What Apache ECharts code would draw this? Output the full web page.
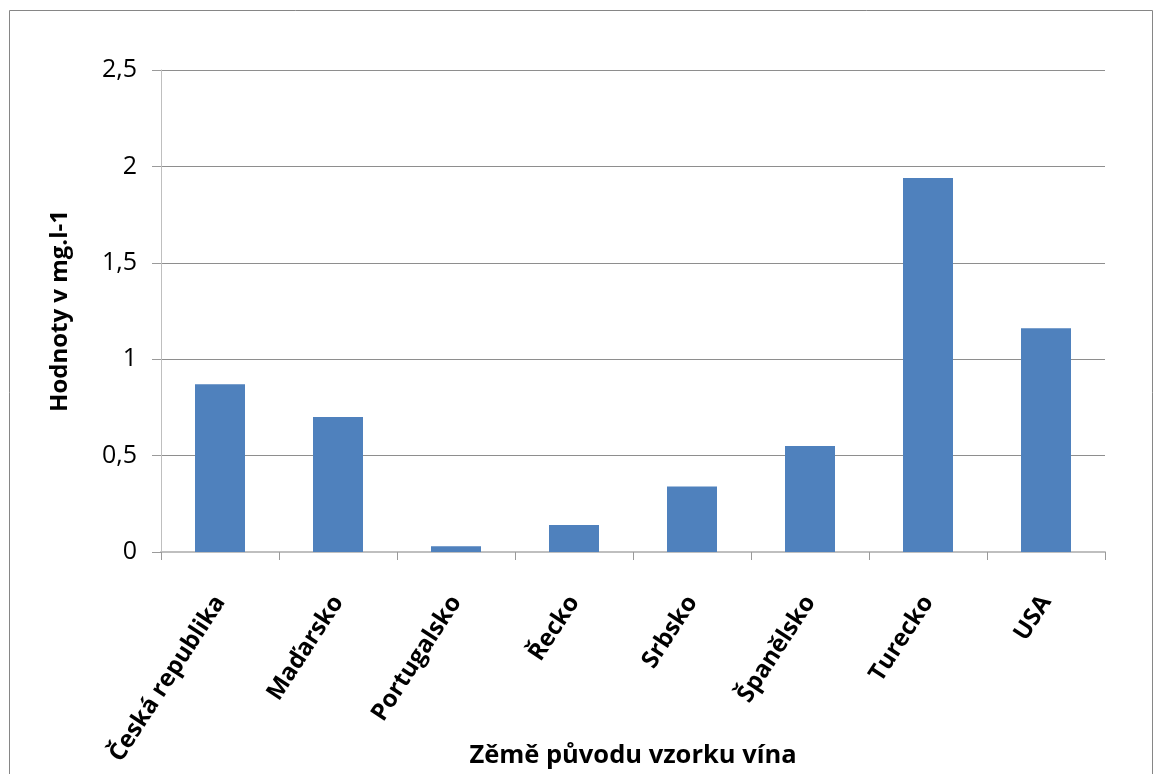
<!DOCTYPE html>
<html>
<head>
<meta charset="utf-8">
<script src="https://cdn.jsdelivr.net/npm/echarts@6/dist/echarts.min.js"></script>
<style>
  html, body { margin: 0; padding: 0; background: #fff; }
  #chart { width: 1155px; height: 774px; }
</style>
</head>
<body>
<div id="chart"></div>
<script>
// Země původu vzorků vína a naměřené hodnoty (mg.l-1)
const countries = ['Česká republika', 'Maďarsko', 'Portugalsko', 'Řecko', 'Srbsko', 'Španělsko', 'Turecko', 'USA'];
const values = [0.87, 0.70, 0.03, 0.14, 0.34, 0.55, 1.94, 1.16];
const yTicks = [0, 0.5, 1, 1.5, 2, 2.5];

const xTitle = 'Zěmě původu vzorku vína';
const yTitle = 'Hodnoty v mg.l-1';

const FONT = '"Open Sans", "DejaVu Sans", sans-serif';

const chart = echarts.init(document.getElementById('chart'), null, { renderer: 'canvas' });

chart.setOption({
  animation: false,
  backgroundColor: '#ffffff',
  grid: {
    left: 161, right: 50, top: 70, bottom: 222,
    containLabel: false,
    outerBoundsMode: 'none'
  },
  graphic: [
    {
      type: 'rect',
      shape: { x: 9.5, y: 10.5, width: 1143, height: 800 },
      style: { fill: 'none', stroke: '#868686', lineWidth: 1 },
      silent: true
    },
    {
      // vertical axis title
      type: 'text',
      x: 60,
      y: 311,
      rotation: Math.PI / 2,
      style: {
        text: yTitle,
        font: 'bold 24px ' + FONT,
        fill: '#000',
        align: 'center',
        verticalAlign: 'middle'
      }
    },
    {
      // horizontal axis title, centred under the plot
      type: 'text',
      x: 633,
      y: 756,
      style: {
        text: xTitle,
        font: 'bold 25.5px ' + FONT,
        fill: '#000',
        align: 'center',
        verticalAlign: 'middle'
      }
    }
  ],
  xAxis: {
    type: 'category',
    data: countries,
    boundaryGap: true,
    axisLine: { show: true, lineStyle: { color: '#BFBFBF', width: 2 } },
    axisTick: { show: true, length: 8, alignWithLabel: false, lineStyle: { color: '#9a9a9a', width: 1 } },
    axisLabel: {
      interval: 0,
      rotate: 57,
      margin: 46,
      fontFamily: FONT,
      fontSize: 24,
      fontWeight: 'bold',
      color: '#000'
    },
    splitLine: { show: false }
  },
  yAxis: {
    type: 'value',
    min: 0,
    max: 2.5,
    interval: 0.5,
    axisLine: { show: true, lineStyle: { color: '#BFBFBF', width: 1 } },
    axisTick: { show: true, length: 9, lineStyle: { color: '#9a9a9a' } },
    axisLabel: {
      margin: 24,
      fontFamily: FONT,
      fontSize: 25,
      color: '#000',
      formatter: function (v) {
        const t = yTicks.find(function (k) { return Math.abs(k - v) < 1e-9; });
        return String(t !== undefined ? t : v).replace('.', ',');
      }
    },
    splitLine: { show: true, lineStyle: { color: '#8E8E8E', width: 1 } }
  },
  series: [
    {
      type: 'bar',
      data: values,
      barWidth: 50,
      itemStyle: { color: '#4F81BD' }
    }
  ]
});
</script>
</body>
</html>
